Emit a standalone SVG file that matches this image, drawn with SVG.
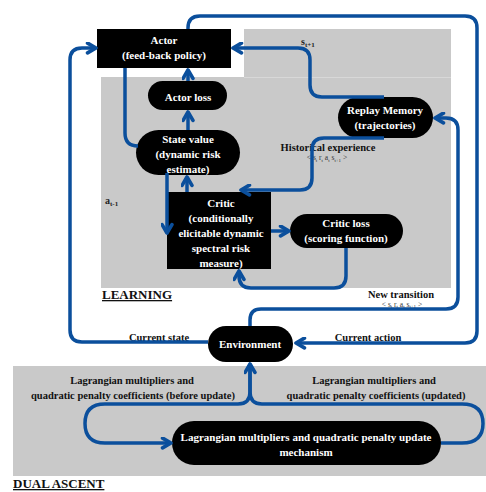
<svg xmlns="http://www.w3.org/2000/svg" width="486" height="492" viewBox="0 0 486 492">
<defs>
<marker id="arr" viewBox="0 0 10 10" refX="8.5" refY="5" markerUnits="userSpaceOnUse" markerWidth="13" markerHeight="13" orient="auto">
<path d="M2,1.2 L8.5,5 L2,8.8" fill="none" stroke="#0b4f9c" stroke-width="2.8" stroke-linecap="round" stroke-linejoin="round"/>
</marker>
</defs>
<style>
.bg{fill:#c9c9c9}
.nd{fill:#000}
.nt{font-family:"Liberation Serif",serif;font-weight:bold;font-size:11px;fill:#fff;text-anchor:middle}
.lb{font-family:"Liberation Serif",serif;font-weight:bold;font-size:10.5px;fill:#111;text-anchor:middle}
.sm{font-family:"Liberation Serif",serif;font-size:7.5px;fill:#333;text-anchor:middle}
.var{font-family:"Liberation Serif",serif;font-weight:bold;font-size:10px;fill:#222}
.ttl{font-family:"Liberation Serif",serif;font-weight:bold;font-size:13px;fill:#111;text-decoration:underline}
.c{fill:none;stroke:#0b4f9c;stroke-width:3.5;stroke-linecap:butt}
.a{marker-end:url(#arr)}
</style>
<rect width="486" height="492" fill="#fff"/>
<!-- backgrounds -->
<rect class="bg" x="244" y="29" width="207" height="48"/>
<rect class="bg" x="101" y="77" width="350" height="211"/>
<line x1="244" y1="77.5" x2="451" y2="77.5" stroke="#d8d8d8" stroke-width="1"/>
<rect class="bg" x="13" y="366" width="473" height="110"/>
<!-- labels -->
<g id="labels">
<text class="ttl" x="102" y="299">LEARNING</text>
<text class="ttl" x="13" y="488">DUAL ASCENT</text>
<text class="var" x="301" y="45">s<tspan font-size="7" dy="2">t+1</tspan></text>
<text class="var" x="105" y="204">a<tspan font-size="7" dy="2">t-1</tspan></text>
<text class="lb" x="328" y="151">Historical experience</text>
<text class="sm" x="327" y="160">&lt; s<tspan font-size="5" dy="2">t</tspan><tspan dy="-2"> r</tspan><tspan font-size="5" dy="2">t</tspan><tspan dy="-2"> a</tspan><tspan font-size="5" dy="2">t</tspan><tspan dy="-2"> s</tspan><tspan font-size="5" dy="2">t+1</tspan><tspan dy="-2"> &gt;</tspan></text>
<text class="lb" x="401" y="298">New transition</text>
<text class="sm" x="402" y="306.5">&lt; s<tspan font-size="5" dy="1.5">t</tspan><tspan dy="-1.5"> r</tspan><tspan font-size="5" dy="1.5">t</tspan><tspan dy="-1.5"> a</tspan><tspan font-size="5" dy="1.5">t</tspan><tspan dy="-1.5"> s</tspan><tspan font-size="5" dy="1.5">t+1</tspan><tspan dy="-1.5"> &gt;</tspan></text>
<text class="lb" x="159" y="341">Current state</text>
<text class="lb" x="368" y="341">Current action</text>
<text class="lb" x="132" y="384">Lagrangian multipliers and</text>
<text class="lb" x="133" y="399">quadratic penalty coefficients (before update)</text>
<text class="lb" x="374" y="384">Lagrangian multipliers and</text>
<text class="lb" x="376" y="399">quadratic penalty coefficients (updated)</text>
</g>
<!-- nodes -->
<g id="actor"><rect class="nd" x="97" y="29" width="134" height="39"/><text class="nt" x="164" y="44">Actor</text><text class="nt" x="164" y="59">(feed-back policy)</text></g>
<g id="actor-loss"><rect class="nd" x="148" y="81" width="79" height="29" rx="14.5"/><text class="nt" x="188" y="101">Actor loss</text></g>
<g id="state-value"><rect class="nd" x="136" y="130" width="104" height="45" rx="22.5"/><text class="nt" x="188" y="143">State value</text><text class="nt" x="188" y="158">(dynamic risk</text><text class="nt" x="188" y="173">estimate)</text></g>
<g id="critic"><rect class="nd" x="167" y="192" width="104" height="77"/><text class="nt" x="221" y="207">Critic</text><text class="nt" x="221" y="222">(conditionally</text><text class="nt" x="221" y="237">elicitable dynamic</text><text class="nt" x="221" y="252">spectral risk</text><text class="nt" x="221" y="267">measure)</text></g>
<g id="critic-loss"><rect class="nd" x="290" y="214" width="113" height="34" rx="17"/><text class="nt" x="346" y="227">Critic loss</text><text class="nt" x="346" y="242">(scoring function)</text></g>
<g id="replay-memory"><rect class="nd" x="338" y="97" width="95" height="41" rx="20.5"/><text class="nt" x="385" y="114">Replay Memory</text><text class="nt" x="385" y="129">(trajectories)</text></g>
<g id="environment"><rect class="nd" x="208" y="326" width="85" height="36" rx="18"/><text class="nt" x="250" y="348">Environment</text></g>
<g id="dual-update"><rect class="nd" x="172" y="421" width="269" height="44" rx="22"/><text class="nt" x="306" y="441">Lagrangian multipliers and quadratic penalty update</text><text class="nt" x="306" y="456">mechanism</text></g>
<!-- connectors -->
<g id="connectors">
<path class="c a" d="M188,29 V28 Q188,16 200,16 H465 Q477,16 477,28 V331 Q477,343 465,343 H296"/>
<path class="c a" d="M384,97 H322 Q310,97 310,85 V60 Q310,48 298,48 H233"/>
<path class="c a" d="M384,138 H324 Q312,138 312,150 V178 Q312,190 300,190 H241"/>
<path class="c" d="M125,68 V133 Q125,146 138,146"/>
<path class="c a" d="M188,130 V112"/>
<path class="c a" d="M188,81 V70"/>
<path class="c a" d="M167,173 V233"/>
<path class="c a" d="M187,192 V177"/>
<path class="c a" d="M271,231 H289"/>
<path class="c a" d="M346,248 V276 Q346,288 334,288 H251 Q239,288 239,276 V271"/>
<path class="c a" d="M250,326 V320 Q250,309 261,309 H446 Q458,309 458,297 V130 Q458,118 446,118 H435"/>
<path class="c a" d="M208,342 H82 Q70,342 70,330 V60 Q70,48 82,48 H96"/>
<path class="c a" d="M250,364 V392 Q250,404 238,404 H105 Q85,404 85,423.5 Q85,443 105,443 H171"/>
<path class="c a" d="M441,443 H462 Q483,443 483,423.5 Q483,404 462,404 H262 Q250,404 250,392 V364"/>
</g>
</svg>
